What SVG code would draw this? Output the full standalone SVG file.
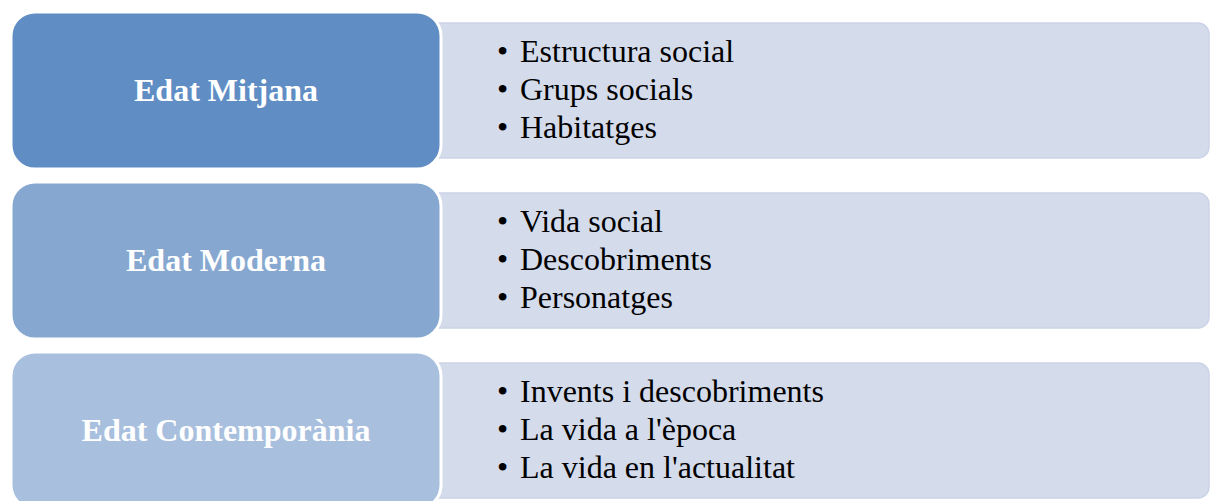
<svg xmlns="http://www.w3.org/2000/svg" width="1210" height="501" viewBox="0 0 1210 501">
<style>
.detail{fill:#D4DBEB;stroke:#CBD3E6;stroke-width:1.5}
.head{stroke:#FFFFFF;stroke-width:3}
.title{font-family:"Liberation Serif",serif;font-weight:bold;font-size:32px;fill:#FFFFFF;text-anchor:middle}
.item{font-family:"Liberation Serif",serif;font-size:32px;fill:#000000}
</style>
<rect width="1210" height="501" fill="#FFFFFF"/>
<g id="row1">
<rect class="detail" x="400" y="23" width="809" height="135" rx="11"/>
<rect class="head" x="11" y="12" width="430" height="157" rx="24" fill="#5F8DC4"/>
<text class="title" x="226" y="101">Edat Mitjana</text>
<text class="item" x="497" y="62">•</text><text class="item" x="520" y="62">Estructura social</text>
<text class="item" x="497" y="100">•</text><text class="item" x="520" y="100">Grups socials</text>
<text class="item" x="497" y="138">•</text><text class="item" x="520" y="138">Habitatges</text>
</g>
<g id="row2">
<rect class="detail" x="400" y="193" width="809" height="135" rx="11"/>
<rect class="head" x="11" y="182" width="430" height="157" rx="24" fill="#86A8D0"/>
<text class="title" x="226" y="271">Edat Moderna</text>
<text class="item" x="497" y="232">•</text><text class="item" x="520" y="232">Vida social</text>
<text class="item" x="497" y="270">•</text><text class="item" x="520" y="270">Descobriments</text>
<text class="item" x="497" y="308">•</text><text class="item" x="520" y="308">Personatges</text>
</g>
<g id="row3">
<rect class="detail" x="400" y="363" width="809" height="135" rx="11"/>
<rect class="head" x="11" y="352" width="430" height="157" rx="24" fill="#A8C0DE"/>
<text class="title" x="226" y="441">Edat Contemporània</text>
<text class="item" x="497" y="402">•</text><text class="item" x="520" y="402">Invents i descobriments</text>
<text class="item" x="497" y="440">•</text><text class="item" x="520" y="440">La vida a l'època</text>
<text class="item" x="497" y="478">•</text><text class="item" x="520" y="478">La vida en l'actualitat</text>
</g>
<g id="connectors"/>
</svg>
